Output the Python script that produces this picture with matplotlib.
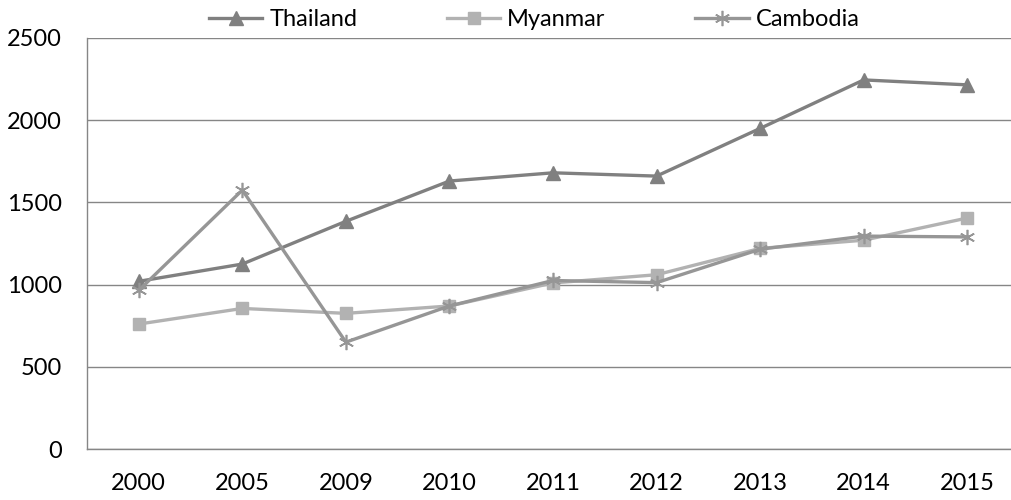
import matplotlib.pyplot as plt

plt.rcParams['font.family'] = ['Lato', 'DejaVu Sans']

# data
years = ['2000', '2005', '2009', '2010', '2011', '2012', '2013', '2014', '2015']
thailand = [1020, 1125, 1385, 1630, 1680, 1660, 1950, 2245, 2215]
myanmar = [760, 855, 825, 870, 1010, 1060, 1220, 1270, 1405]
cambodia = [965, 1575, 650, 870, 1025, 1012, 1215, 1295, 1290]

fig = plt.figure(figsize=(10.12, 5.0), dpi=100)
ax = fig.add_axes([87 / 1012, 51 / 500, 932 / 1012, 411 / 500])

x = range(len(years))
ax.plot(x, thailand, color='#808080', lw=2.4, marker='^', ms=10,
        label='Thailand', zorder=3)
ax.plot(x, myanmar, color='#b2b2b2', lw=2.4, marker='s', ms=8.5,
        label='Myanmar', zorder=3)
ax.plot(x, cambodia, color='#969696', lw=2.4, marker=(6, 2, 0), ms=11,
        mew=1.2, label='Cambodia', zorder=4)

ax.set_xlim(-0.5, len(years) - 0.5)
ax.set_ylim(0, 2500)
ax.set_xticks(list(x))
ax.set_xticklabels(years)
ax.set_yticks([0, 500, 1000, 1500, 2000, 2500])
ax.tick_params(length=0, labelsize=17, colors='black')
ax.tick_params(axis='x', pad=17)
ax.tick_params(axis='y', pad=18)

ax.grid(axis='y', color='#868686', lw=1.0)
ax.set_axisbelow(True)
for s in ['top', 'right']:
    ax.spines[s].set_visible(False)
for s in ['left', 'bottom']:
    ax.spines[s].set_color('#868686')
    ax.spines[s].set_linewidth(1.0)

ax.legend(loc='center', bbox_to_anchor=(0.48, 1.045), ncol=3,
          frameon=False, fontsize=17, handlelength=2.25, handletextpad=0.3,
          columnspacing=3.8, borderaxespad=0, borderpad=0)

fig.savefig('out.png', dpi=100)
